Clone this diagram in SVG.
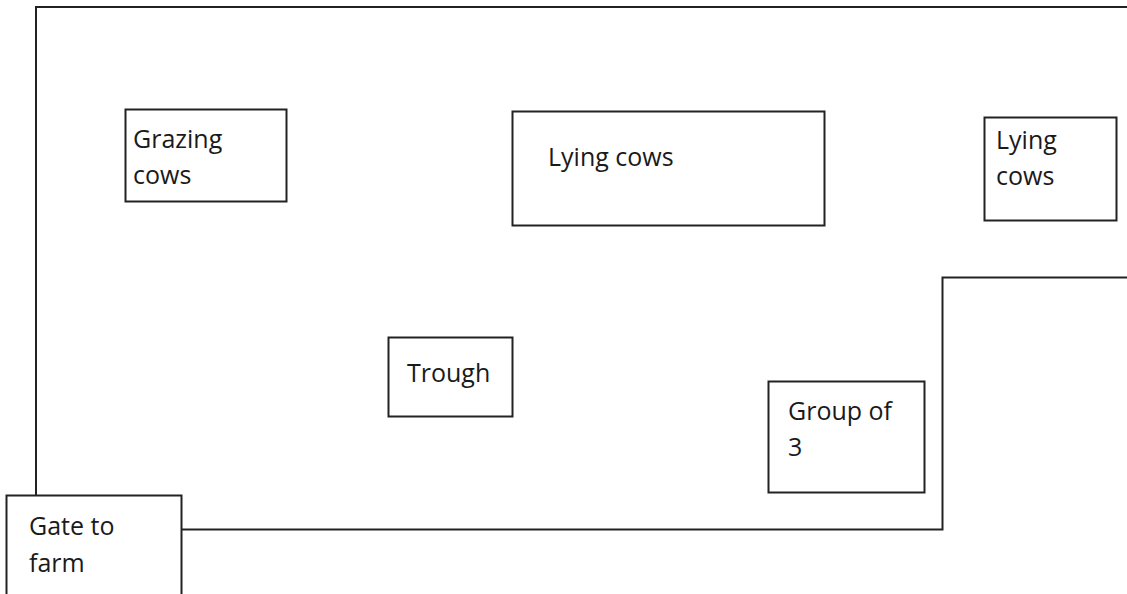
<svg xmlns="http://www.w3.org/2000/svg" width="1127" height="594" viewBox="0 0 1127 594">
<style>
.b{fill:#fff;stroke:#222;stroke-width:2}
.l{fill:none;stroke:#222;stroke-width:2}
text{font-family:"Open Sans","Noto Sans",sans-serif;font-size:25px;fill:#1a1a1a}
</style>
<rect width="1127" height="594" fill="#fff"/>
<g id="connectors">
<path class="l" d="M36,496 V7 H1127"/>
<path class="l" d="M182,529.5 H942.5 V277.5 H1127"/>
</g>
<g id="grazing"><rect class="b" x="125.5" y="109.5" width="161" height="92"/><text x="133" y="148">Grazing</text><text x="133" y="184">cows</text></g>
<g id="lying1"><rect class="b" x="512.5" y="111.5" width="312" height="114"/><text x="548" y="166">Lying cows</text></g>
<g id="lying2"><rect class="b" x="984.5" y="117.5" width="132" height="103"/><text x="996" y="149">Lying</text><text x="996" y="185">cows</text></g>
<g id="trough"><rect class="b" x="388.5" y="337.5" width="124" height="79"/><text x="407" y="382">Trough</text></g>
<g id="group3"><rect class="b" x="768.5" y="381.5" width="156" height="111"/><text x="788" y="420">Group of</text><text x="788" y="456">3</text></g>
<g id="gate"><rect class="b" x="6.5" y="495.5" width="175" height="110"/><text x="29" y="535">Gate to</text><text x="29" y="572">farm</text></g>
</svg>
